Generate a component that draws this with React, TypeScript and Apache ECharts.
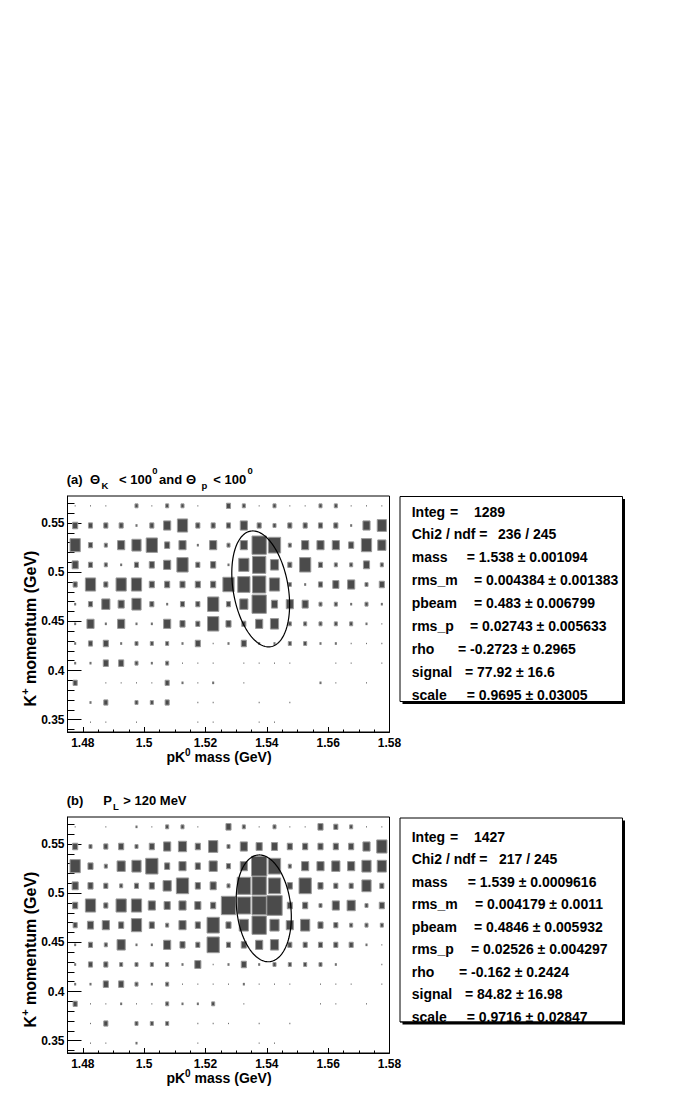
import React, { useEffect, useRef } from "react";
import * as echarts from "echarts";

// ---------- bin centres (categories) ----------
const massCenters = [
  1.4775, 1.4825, 1.4875, 1.4925, 1.4975, 1.5025, 1.5075, 1.5125, 1.5175, 1.5225, 1.5275,
  1.5325, 1.5375, 1.5425, 1.5475, 1.5525, 1.5575, 1.5625, 1.5675, 1.5725, 1.5775,
];
const momentumCenters = [
  0.5675, 0.5475, 0.5275, 0.5075, 0.4875, 0.4675, 0.4475, 0.4275, 0.4075, 0.3875, 0.3675, 0.3475,
];

// ---------- tick labels ----------
const massTicks = [1.48, 1.5, 1.52, 1.54, 1.56, 1.58];
const momentumTicks = [0.35, 0.4, 0.45, 0.5, 0.55];

// ---------- panel (a) counts: rows = momentum bins (top to bottom), cols = mass bins ----------
const countsA: number[][] = [
  [1, 1, 1, 0, 3, 1, 3, 3, 1, 0, 4, 3, 1, 3, 1, 1, 3, 3, 1, 1, 1],
  [5, 4, 4, 4, 2, 4, 7, 10, 4, 4, 4, 7, 4, 3, 4, 4, 4, 4, 2, 7, 9],
  [10, 4, 3, 7, 9, 11, 5, 7, 2, 7, 3, 7, 14, 12, 3, 7, 7, 7, 5, 10, 8],
  [6, 4, 3, 2, 4, 5, 7, 11, 4, 5, 2, 10, 13, 8, 4, 11, 4, 3, 3, 6, 3],
  [4, 10, 4, 10, 10, 5, 5, 5, 5, 5, 11, 12, 13, 10, 3, 2, 4, 6, 7, 3, 5],
  [2, 4, 8, 6, 9, 4, 2, 4, 4, 11, 4, 8, 14, 6, 7, 6, 3, 3, 2, 3, 2],
  [2, 7, 2, 7, 2, 2, 7, 5, 4, 11, 5, 4, 7, 8, 3, 3, 3, 3, 3, 2, 1],
  [2, 4, 5, 2, 3, 3, 3, 2, 5, 1, 2, 5, 2, 2, 3, 3, 2, 2, 1, 1, 1],
  [2, 2, 5, 5, 3, 2, 3, 1, 1, 1, 0, 1, 1, 1, 1, 0, 0, 1, 1, 0, 1],
  [4, 0, 1, 1, 1, 1, 4, 2, 1, 2, 0, 1, 0, 0, 0, 0, 2, 1, 0, 1, 0],
  [0, 2, 4, 0, 3, 3, 4, 0, 1, 1, 0, 0, 1, 0, 1, 0, 0, 0, 0, 0, 0],
  [0, 1, 1, 0, 1, 0, 0, 0, 1, 1, 0, 0, 1, 1, 0, 0, 0, 0, 0, 0, 0],
];

// ---------- panel (b) counts ----------
const countsB: number[][] = [
  [1, 0, 1, 0, 2, 1, 3, 3, 1, 0, 5, 3, 1, 3, 1, 1, 5, 4, 3, 1, 1],
  [5, 3, 4, 5, 3, 5, 7, 8, 5, 9, 3, 7, 6, 6, 5, 5, 5, 5, 5, 7, 10],
  [10, 5, 3, 8, 9, 12, 5, 7, 5, 8, 4, 7, 15, 12, 3, 7, 7, 8, 7, 9, 9],
  [6, 5, 4, 3, 4, 5, 8, 12, 5, 6, 3, 13, 14, 12, 5, 12, 5, 4, 4, 9, 4],
  [5, 10, 4, 10, 10, 7, 6, 7, 6, 5, 14, 13, 14, 15, 5, 5, 3, 7, 8, 3, 5],
  [4, 6, 7, 5, 10, 5, 3, 7, 5, 12, 5, 9, 14, 9, 7, 9, 5, 4, 3, 3, 3],
  [2, 4, 3, 8, 2, 2, 7, 5, 4, 12, 4, 5, 7, 8, 4, 4, 4, 4, 4, 2, 1],
  [2, 4, 4, 3, 3, 3, 3, 2, 6, 1, 2, 5, 2, 3, 3, 3, 3, 2, 0, 0, 1],
  [2, 2, 5, 5, 3, 2, 3, 1, 1, 1, 1, 2, 1, 1, 1, 0, 1, 1, 1, 0, 1],
  [4, 1, 1, 2, 1, 1, 3, 2, 2, 3, 0, 1, 0, 0, 0, 0, 1, 1, 0, 1, 0],
  [0, 1, 4, 0, 3, 3, 3, 0, 1, 1, 1, 0, 1, 0, 1, 0, 0, 0, 0, 0, 0],
  [0, 1, 1, 0, 2, 0, 0, 0, 1, 0, 0, 0, 1, 1, 0, 0, 0, 0, 0, 0, 0],
];

// ---------- fit results ----------
const statNames = ["mass", "rms_m", "pbeam", "rms_p", "rho", "signal", "scale"];
const fitValuesA = [1.538, 0.004384, 0.483, 0.02743, -0.2723, 77.92, 0.9695];
const fitErrorsA = [0.001094, 0.001383, 0.006799, 0.005633, 0.2965, 16.6, 0.03005];
const fitValuesB = [1.539, 0.004179, 0.4846, 0.02526, -0.162, 84.82, 0.9716];
const fitErrorsB = [0.0009616, 0.0011, 0.005932, 0.004297, 0.2424, 16.98, 0.02847];
const integrals = [1289, 1427];
const chi2s = [236, 217];
const ndfs = [245, 245];

// ---------- constants ----------
const FONT = '"Liberation Sans", Arial, Helvetica, sans-serif';
const BIN_W = 0.005;
const BIN_H = 0.02;
const MAX_COUNT = 15;
const CONTOUR_K = 2.15;
const X_MIN = 1.475;
const X_MAX = 1.58;
const Y_MIN = 0.3375;
const Y_MAX = 0.5775;
const GRID_LEFT = 67.5;
const GRID_W = 322;
const GRID_H = 236;
const PANEL_TOPS = [496, 817];
const DY = 321;

const xMinor = Array.from({ length: 22 }, (_, i) => +(X_MIN + 0.005 * i).toFixed(4));
const yMinor = Array.from({ length: 24 }, (_, i) => +(0.34 + 0.01 * i).toFixed(3));

function toBoxData(counts: number[][]) {
  const out: number[][] = [];
  counts.forEach((row, i) =>
    row.forEach((c, j) => {
      if (c > 0) out.push([massCenters[j], momentumCenters[i], c]);
    })
  );
  return out;
}

const renderBox = (_params: any, api: any) => {
  const c = api.value(2);
  const ctr = api.coord([api.value(0), api.value(1)]);
  const sz = api.size([BIN_W, BIN_H]);
  const f = c / MAX_COUNT;
  const w = sz[0] * f;
  const h = sz[1] * f;
  const big = w > 3;
  return {
    type: "rect",
    shape: { x: ctr[0] - w / 2, y: ctr[1] - h / 2, width: w, height: h },
    style: big
      ? { fill: "#4b4b4b", stroke: "#9a9a9a", lineWidth: 1 }
      : { fill: "#707070", stroke: null, lineWidth: 0 },
  };
};

const makeEllipse = (rmsM: number, rmsP: number, rho: number) => (_params: any, api: any) => {
  const m0 = api.value(0);
  const p0 = api.value(1);
  const pts: number[][] = [];
  const n = 160;
  for (let k = 0; k <= n; k++) {
    const t = (2 * Math.PI * k) / n;
    const dm = CONTOUR_K * rmsM * Math.cos(t);
    const dp = CONTOUR_K * rmsP * (rho * Math.cos(t) + Math.sqrt(1 - rho * rho) * Math.sin(t));
    pts.push(api.coord([m0 + dm, p0 + dp]));
  }
  return {
    type: "polyline",
    shape: { points: pts },
    style: { stroke: "#000", fill: null, lineWidth: 1.2 },
  };
};

const baseText = { fontFamily: FONT, fontWeight: "bold", fill: "#000" };

function textEl(text: string, x: number, y: number, size: number, extra: any = {}) {
  return {
    type: "text",
    x,
    y,
    silent: true,
    style: { ...baseText, text, fontSize: size, align: "left", verticalAlign: "middle", ...extra },
  };
}

function statsBox(p: number) {
  const fitV = p === 0 ? fitValuesA : fitValuesB;
  const fitE = p === 0 ? fitErrorsA : fitErrorsB;
  const top = p === 0 ? 496.5 : 818;
  const h = p === 0 ? 205 : 204;
  const left = 400;
  const w = 222.5;
  const lineY0 = p === 0 ? 511.5 : 836.5;
  const step = p === 0 ? 22.9 : 22.5;
  const valueX =
    p === 0 ? [466.7, 474, 474, 470, 458, 465, 466.7] : [467.7, 475, 474, 471, 459, 465, 466.7];
  const els: any[] = [];
  els.push({ type: "rect", silent: true, shape: { x: left + 2.5, y: top + 2.5, width: w, height: h }, style: { fill: "#000" } });
  els.push({ type: "rect", silent: true, shape: { x: left, y: top, width: w, height: h }, style: { fill: "#fff", stroke: "#000", lineWidth: 1 } });
  const S = 14;
  els.push(textEl("Integ", 411.7, lineY0, S));
  els.push(textEl("=", 450, lineY0, S));
  els.push(textEl(String(integrals[p]), 474, lineY0, S));
  els.push(textEl("Chi2 / ndf =", 411.7, lineY0 + step, S));
  els.push(textEl(`${chi2s[p]} / ${ndfs[p]}`, p === 0 ? 498 : 499, lineY0 + step, S));
  statNames.forEach((nm, i) => {
    const y = lineY0 + step * (i + 2);
    els.push(textEl(nm, 411.7, y, S));
    els.push(textEl(`= ${fitV[i]} \u00b1 ${fitE[i]}`, valueX[i], y, S));
  });
  // clip the last line at the bottom border, as in the original
  els.push({ type: "rect", silent: true, shape: { x: left - 1, y: top + h + 0.5, width: w + 1, height: 10 }, style: { fill: "#fff" } });
  els.push({ type: "rect", silent: true, shape: { x: left + 2.5, y: top + h, width: w, height: 2.5 }, style: { fill: "#000" } });
  els.push({ type: "line", silent: true, shape: { x1: left, y1: top + h, x2: left + w, y2: top + h }, style: { stroke: "#000", lineWidth: 1 } });
  return els;
}

function buildOption() {
  const grids: any[] = [];
  const xAxes: any[] = [];
  const yAxes: any[] = [];
  const series: any[] = [];
  const graphics: any[] = [];

  [0, 1].forEach((p) => {
    grids.push({
      left: GRID_LEFT,
      top: PANEL_TOPS[p],
      width: GRID_W,
      height: GRID_H,
      show: true,
      borderColor: "#000",
      borderWidth: 1,
      backgroundColor: "transparent",
    });
    const labelStyle = { color: "#000", fontFamily: FONT, fontWeight: "bold" };
    xAxes.push({
      type: "value",
      gridIndex: p,
      min: X_MIN,
      max: X_MAX,
      position: "bottom",
      axisLine: { show: true, onZero: false, lineStyle: { color: "#000", width: 1 } },
      axisTick: { show: true, inside: true, length: 5, customValues: massTicks, lineStyle: { color: "#000" } },
      axisLabel: { show: true, customValues: massTicks, margin: 5, fontSize: 12, ...labelStyle, formatter: (v: number) => String(v) },
      splitLine: { show: false },
    });
    xAxes.push({
      type: "value",
      gridIndex: p,
      min: X_MIN,
      max: X_MAX,
      position: "bottom",
      axisLine: { show: false },
      axisTick: { show: true, inside: true, length: 2.5, customValues: xMinor, lineStyle: { color: "#000" } },
      axisLabel: { show: false },
      splitLine: { show: false },
    });
    yAxes.push({
      type: "value",
      gridIndex: p,
      min: Y_MIN,
      max: Y_MAX,
      position: "left",
      axisLine: { show: true, onZero: false, lineStyle: { color: "#000", width: 1 } },
      axisTick: { show: true, inside: true, length: 14, customValues: momentumTicks, lineStyle: { color: "#000" } },
      axisLabel: { show: true, customValues: momentumTicks, margin: 3, fontSize: 12, ...labelStyle, formatter: (v: number) => String(v) },
      splitLine: { show: false },
    });
    yAxes.push({
      type: "value",
      gridIndex: p,
      min: Y_MIN,
      max: Y_MAX,
      position: "left",
      offset: 0,
      axisLine: { show: false },
      axisTick: { show: true, inside: true, length: 7, customValues: yMinor, lineStyle: { color: "#000" } },
      axisLabel: { show: false },
      splitLine: { show: false },
    });

    const fitV = p === 0 ? fitValuesA : fitValuesB;
    series.push({
      type: "custom",
      coordinateSystem: "cartesian2d",
      xAxisIndex: 2 * p,
      yAxisIndex: 2 * p,
      data: toBoxData(p === 0 ? countsA : countsB),
      renderItem: renderBox,
      silent: true,
      clip: true,
    });
    series.push({
      type: "custom",
      coordinateSystem: "cartesian2d",
      xAxisIndex: 2 * p,
      yAxisIndex: 2 * p,
      data: [[fitV[0], fitV[2]]],
      renderItem: makeEllipse(fitV[1], fitV[3], fitV[4]),
      silent: true,
      z: 5,
    });

    const dy = p * DY;
    // y-axis title (rotated)
    graphics.push({
      type: "text",
      x: 30,
      y: 628.5 + dy,
      rotation: Math.PI / 2,
      silent: true,
      style: {
        ...baseText,
        text: "{m|K}{s|+}{m| momentum (GeV)}",
        fontSize: 16,
        align: "center",
        verticalAlign: "middle",
        rich: {
          m: { fontSize: 16, fontFamily: FONT, fontWeight: "bold", lineHeight: 22 },
          s: { fontSize: 11, fontFamily: FONT, fontWeight: "bold", verticalAlign: "top" },
        },
      },
    });
    // x-axis title
    graphics.push({
      type: "text",
      x: 219,
      y: 757 + dy,
      silent: true,
      style: {
        ...baseText,
        text: "{m|pK}{s|0}{m| mass (GeV)}",
        fontSize: 14,
        align: "center",
        verticalAlign: "middle",
        rich: {
          m: { fontSize: 14, fontFamily: FONT, fontWeight: "bold", lineHeight: 20 },
          s: { fontSize: 10, fontFamily: FONT, fontWeight: "bold", verticalAlign: "top" },
        },
      },
    });
    graphics.push(...statsBox(p));
  });

  // panel titles
  const TS = 13;
  const SS = 9.5;
  const ya = 479;
  graphics.push(
    textEl("(a)", 66.7, ya, TS),
    textEl("\u0398", 90, ya, TS),
    textEl("K", 101.5, ya + 6.5, SS),
    textEl("< 100", 119, ya, TS),
    textEl("0", 152.3, ya - 9, SS),
    textEl("and", 159, ya, TS),
    textEl("\u0398", 186, ya, TS),
    textEl("p", 201.5, ya + 6.5, SS),
    textEl("< 100", 213.3, ya, TS),
    textEl("0", 247.5, ya - 9, SS)
  );
  const yb = ya + DY;
  graphics.push(
    textEl("(b)", 66.7, yb, TS),
    textEl("P", 103.3, yb, TS),
    textEl("L", 113, yb + 6.5, SS),
    textEl("> 120 MeV", 123.3, yb, TS)
  );

  return {
    animation: false,
    backgroundColor: "#fff",
    grid: grids,
    xAxis: xAxes,
    yAxis: yAxes,
    series,
    graphic: graphics,
  };
}

export default function App() {
  const ref = useRef<HTMLDivElement>(null);
  useEffect(() => {
    document.body.style.margin = "0";
    const chart = echarts.init(ref.current as HTMLDivElement, null, { renderer: "svg" });
    chart.setOption(buildOption() as any);
    return () => chart.dispose();
  }, []);
  return <div ref={ref} style={{ width: 681, height: 1100 }} />;
}
